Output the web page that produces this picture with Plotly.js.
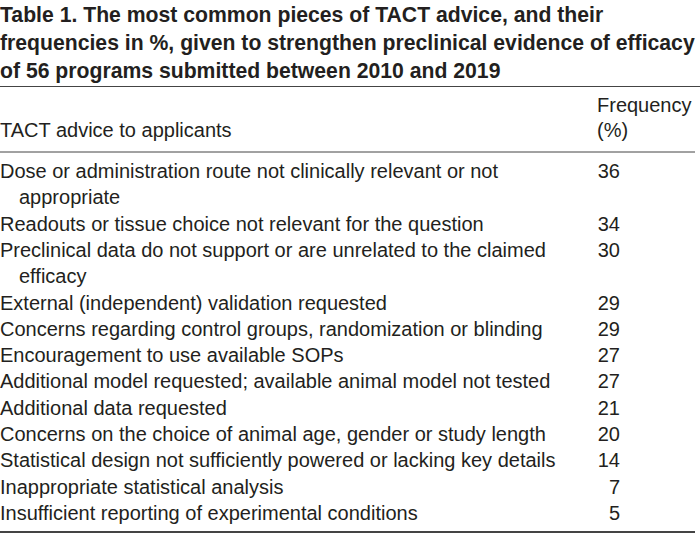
<!DOCTYPE html>
<html>
<head>
<meta charset="utf-8">
<script src="https://cdn.plot.ly/plotly-3.0.1.min.js"></script>
<style>html,body{margin:0;padding:0;background:#fff;}#chart{width:700px;height:535px;}</style>
</head>
<body>
<div id="chart"></div>
<script>
const tableTitle = "Table 1. The most common pieces of TACT advice, and their<br>frequencies in %, given to strengthen preclinical evidence of efficacy<br>of 56 programs submitted between 2010 and 2019";
const headerLabels = ["TACT advice to applicants", "Frequency<br>(%)"];
const advice = [
  "Dose or administration route not clinically relevant or not<br>appropriate",
  "Readouts or tissue choice not relevant for the question",
  "Preclinical data do not support or are unrelated to the claimed<br>efficacy",
  "External (independent) validation requested",
  "Concerns regarding control groups, randomization or blinding",
  "Encouragement to use available SOPs",
  "Additional model requested; available animal model not tested",
  "Additional data requested",
  "Concerns on the choice of animal age, gender or study length",
  "Statistical design not sufficiently powered or lacking key details",
  "Inappropriate statistical analysis",
  "Insufficient reporting of experimental conditions"
];
const frequency = [36, 34, 30, 29, 29, 27, 27, 21, 20, 14, 7, 5];

// layout constants (pixel-like units on hidden axes)
const FONT = "'Liberation Sans Narrow', 'Arial Narrow', 'Liberation Sans', Arial, sans-serif";
const COLOR = "#231f20";
const LINE = 26.3;
const FIRST = 173;
const LABEL_X = 0, INDENT_X = 19, NUM_X = 620, HEAD2_X = 597;

const lx = [], ly = [], lt = [];
const nx = [], ny = [], nt = [];
let line = 0;
advice.forEach((a, i) => {
  const parts = a.split("<br>");
  parts.forEach((p, k) => {
    lx.push(k === 0 ? LABEL_X : INDENT_X);
    ly.push(FIRST + (line + k) * LINE);
    lt.push(p);
  });
  nx.push(NUM_X); ny.push(FIRST + line * LINE); nt.push(String(frequency[i]));
  line += parts.length;
});

const headParts = headerLabels[1].split("<br>");
const hx = [LABEL_X], hy = [FIRST - 41], ht = [headerLabels[0]];
headParts.forEach((p, k) => { hx.push(HEAD2_X); hy.push(FIRST - 66 + k * 25); ht.push(p); });

const textFont = {family: FONT, size: 20, color: COLOR};
const traces = [
  {type: "scatter", mode: "text", x: lx, y: ly, text: lt, textposition: "middle right", textfont: textFont, hoverinfo: "skip", showlegend: false, cliponaxis: false},
  {type: "scatter", mode: "text", x: nx, y: ny, text: nt, textposition: "middle left", textfont: textFont, hoverinfo: "skip", showlegend: false, cliponaxis: false},
  {type: "scatter", mode: "text", x: hx, y: hy, text: ht, textposition: "middle right", textfont: textFont, hoverinfo: "skip", showlegend: false, cliponaxis: false}
];

const layout = {
  width: 700, height: 535,
  margin: {l: 0, r: 0, t: 0, b: 0},
  paper_bgcolor: "#fff", plot_bgcolor: "#fff",
  title: {text: tableTitle, font: {family: FONT, size: 21.2, color: COLOR, weight: "bold"},
          x: 0, xref: "container", xanchor: "left", y: 0.958, yref: "container", yanchor: "top", pad: {t: 0, l: 0}},
  xaxis: {range: [0, 700], visible: false, fixedrange: true},
  yaxis: {range: [535, 0], visible: false, fixedrange: true},
  shapes: [
    {type: "line", xref: "x", yref: "y", x0: 0, x1: 700, y0: 86.5, y1: 86.5, line: {color: "#444", width: 1}},
    {type: "line", xref: "x", yref: "y", x0: 0, x1: 695, y0: 152, y1: 152, line: {color: "#444", width: 1}},
    {type: "line", xref: "x", yref: "y", x0: 0, x1: 695, y0: 532, y1: 532, line: {color: "#444", width: 2}}
  ]
};
Plotly.newPlot("chart", traces, layout, {displayModeBar: false, staticPlot: true});
</script>
</body>
</html>
